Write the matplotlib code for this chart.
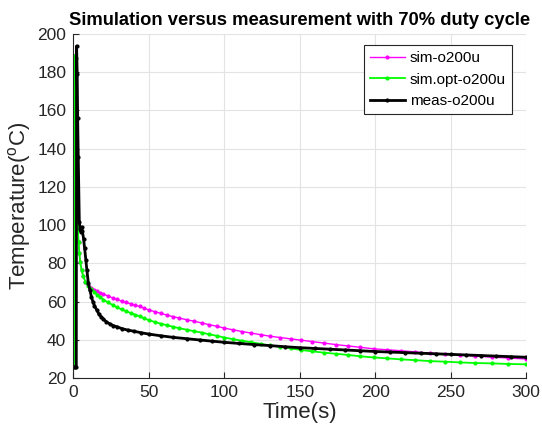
import matplotlib
matplotlib.use('Agg')
import matplotlib.pyplot as plt

plt.rcParams['font.family'] = ['Liberation Sans', 'DejaVu Sans']
plt.rcParams['mathtext.fontset'] = 'custom'
plt.rcParams['mathtext.rm'] = 'Liberation Sans'
plt.rcParams['mathtext.it'] = 'Liberation Sans'

# simulated curves (time in s, temperature in C)
sim_t = [0, 0.5, 0.8, 1.5, 2, 2.5, 3, 3.5, 4, 4.6, 5.5, 6.5, 8, 10, 12, 14, 16, 18, 20,
         23, 26, 29, 32, 35, 38, 41, 44, 47, 50, 54, 58, 62, 66, 70, 75, 80, 85, 90, 95,
         100, 106, 112, 118, 124, 130, 137, 144, 151, 158, 166, 174, 182, 190, 199, 208,
         217, 226, 236, 246, 256, 266, 277, 288, 300]

sim_o200u = [26, 26, 188.5, 187, 150, 115, 100, 91, 85.5, 80.5, 76.5, 73.5, 70.5, 68.6,
             67.3, 66.3, 65.4, 64.6, 64.0, 63.0, 62.0, 61.2, 60.3, 59.6, 58.9, 58.2, 57.5,
             56.6, 55.7, 54.8, 53.9, 53.0, 52.2, 51.5, 50.6, 49.8, 48.9, 48.0, 47.2, 46.2,
             45.3, 44.4, 43.6, 42.8, 42.0, 41.3, 40.6, 39.9, 39.2, 38.4, 37.6, 36.9, 36.2,
             35.4, 34.9, 34.4, 33.8, 33.2, 32.7, 32.2, 31.6, 31.1, 30.6, 30.1]

simopt_o200u = [26, 26, 188.5, 187, 150, 115, 100, 91, 85.5, 80.5, 76.5, 73.5, 70.5, 68.3,
                66.5, 64.9, 63.5, 62.3, 61.1, 59.6, 58.3, 57.1, 56.0, 55.0, 54.1, 53.2, 52.3,
                51.3, 50.4, 49.4, 48.5, 47.7, 46.9, 46.2, 45.4, 44.6, 43.9, 43.0, 42.2, 41.3,
                40.4, 39.6, 38.8, 38.0, 37.2, 36.5, 35.6, 34.8, 34.1, 33.4, 32.8, 32.2, 31.5,
                30.9, 30.4, 29.9, 29.5, 29.0, 28.7, 28.3, 28.0, 27.8, 27.5, 27.3]

# measurement
meas_t = [0, 1.0, 2.0, 2.2, 2.6, 2.9, 3.3, 4.0, 4.5, 5.0, 5.5, 6.0, 6.8, 7.5, 8.3, 9.0, 10,
          11, 12, 13, 14, 15.5, 17, 18.5, 20, 22, 24, 26.5, 29, 32, 36, 40, 45, 50, 58, 66,
          75, 84, 92, 100, 110, 120, 130, 140, 150, 160, 170, 180, 190, 200, 210, 220, 230,
          240, 250, 260, 270, 280, 290, 300]
meas_o200u = [26, 26, 26, 193.5, 179, 156, 135.5, 101.5, 98, 96.5, 99, 97, 93, 88, 82, 76.5,
              69.6, 66, 62.6, 60, 58, 55.7, 53.5, 52, 50.8, 49.5, 48.5, 47.5, 46.9, 46, 45.2,
              44.6, 43.8, 43.1, 42.2, 41.4, 40.7, 40.0, 39.4, 38.8, 38.2, 37.6, 37.1, 36.5,
              36.0, 35.6, 35.2, 34.8, 34.4, 34.0, 33.7, 33.4, 33.1, 32.8, 32.5, 32.2, 31.9,
              31.6, 31.3, 31.0]

fig = plt.figure(figsize=(5.42, 4.34), dpi=100)
ax = fig.add_axes([0.1352, 0.1283, 0.9710 - 0.1352, 0.9226 - 0.1283])

ax.plot(sim_t, sim_o200u, color='#ff00ff', marker='.', markersize=4, linewidth=1,
        label='sim-o200u')
ax.plot(sim_t, simopt_o200u, color='#00ff00', marker='.', markersize=4, linewidth=1.3,
        label='sim.opt-o200u')
ax.plot(meas_t, meas_o200u, color='black', marker='.', markersize=4, linewidth=2,
        label='meas-o200u')

ax.set_xlim(0, 300)
ax.set_ylim(20, 200)
ax.set_xticks(range(0, 301, 50))
ax.set_yticks(range(20, 201, 20))
ax.grid(True, color='#e3e3e3', linewidth=0.8)
ax.set_axisbelow(True)
ax.spines['top'].set_visible(False)
ax.spines['right'].set_visible(False)
for s in ['left', 'bottom']:
    ax.spines[s].set_color('#262626')
    ax.spines[s].set_linewidth(0.8)
ax.tick_params(direction='in', length=4, width=0.8, colors='#262626', labelsize=12.5,
               pad=5)

ax.set_xlabel('Time(s)', fontsize=16, color='#262626', labelpad=1)
ax.set_ylabel(r'Temperature($^o$C)', fontsize=16, color='#262626', labelpad=3)
ax.set_title('Simulation versus measurement with 70% duty cycle', fontsize=13.2,
             fontweight='bold', pad=6)

leg = ax.legend(loc='upper right', bbox_to_anchor=(0.968, 0.967), borderaxespad=0,
                fontsize=11, fancybox=False, framealpha=1, edgecolor='#262626',
                handlelength=2.3, handletextpad=0.3, labelspacing=0.5, borderpad=0.4)
leg.get_frame().set_linewidth(0.8)

plt.savefig('out.png', dpi=100)
